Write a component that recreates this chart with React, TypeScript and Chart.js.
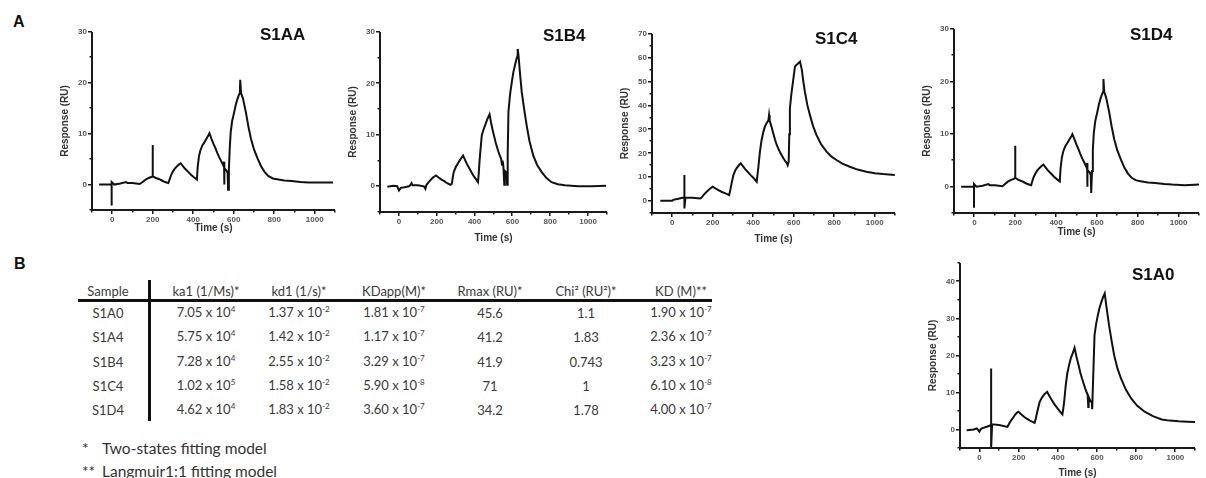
import React, { useEffect, useRef } from 'react';
import { Chart, registerables } from 'chart.js';

Chart.register(...registerables);

// ---------- Sensorgram data (time in s, response in RU) ----------
const s1aaTime = [-65, -20, -3, -3, -3, 10, 40, 68, 75, 100, 135, 150, 165, 180, 193, 200, 200, 200, 215, 230, 245, 260, 277, 283, 290, 300, 310, 320, 330, 338, 350, 360, 375, 390, 405, 418, 422, 428, 435, 445, 455, 465, 475, 480, 490, 500, 510, 518, 528, 538, 548, 550, 552, 552, 555, 565, 570, 572, 576, 580, 585, 592, 602, 610, 618, 625, 630, 632, 636, 645, 660, 672, 685, 700, 718, 735, 752, 770, 793, 820, 850, 885, 930, 968, 1030, 1090];
const s1aaResponse = [0, 0, 0, -4.1, 0.5, 0, 0.2, 0.5, 0.3, 0.3, 0.1, 0.5, 1.0, 1.3, 1.5, 1.6, 7.8, 1.6, 1.3, 1.1, 0.8, 0.5, 0.3, 1.0, 1.8, 2.6, 3.2, 3.6, 4.0, 4.2, 3.6, 3.1, 2.5, 1.9, 1.4, 1.0, 3.5, 5.5, 6.7, 7.7, 8.3, 9.0, 9.7, 10.1, 9.0, 8.0, 7.1, 6.3, 5.4, 4.6, 3.8, 3.6, 4.5, 0.0, 3.2, 2.7, 2.2, -1.0, 3.0, 7.0, 10.3, 12.5, 14.2, 15.7, 16.8, 17.6, 18.0, 20.6, 18.0, 17.0, 14.2, 11.5, 9.0, 6.9, 5.1, 3.6, 2.5, 1.7, 1.2, 1.0, 0.8, 0.7, 0.5, 0.4, 0.4, 0.4];

const s1b4Time = [-61, -30, -9, 0, 10, 30, 53, 62, 67, 72, 100, 132, 140, 145, 155, 167, 180, 196, 210, 225, 240, 255, 272, 280, 285, 290, 300, 316, 328, 339, 350, 360, 375, 390, 405, 418, 422, 426, 430, 438, 447, 456, 468, 479, 487, 495, 503, 510, 518, 525, 533, 540, 545, 548, 552, 557, 560, 565, 570, 572, 575, 579, 588, 597, 605, 614, 621, 626, 628, 632, 640, 649, 662, 675, 690, 710, 730, 754, 780, 807, 840, 877, 947, 1020, 1095];
const s1b4Response = [-0.1, 0.1, 0, -0.8, -0.3, -0.2, 0, 0.3, 0.6, 0.2, 0.2, 0.0, -0.5, 0.2, 0.7, 1.2, 1.7, 2.1, 1.7, 1.3, 1.0, 0.6, 0.3, 0.5, 1.8, 2.8, 3.7, 4.7, 5.4, 6.0, 5.1, 4.3, 3.3, 2.3, 1.5, 0.8, 2.5, 4.8, 6.6, 9.9, 11.0, 11.9, 13.1, 14.0, 12.4, 11.0, 9.8, 8.7, 7.7, 6.8, 6.0, 5.4, 4.2, 5.0, 4.0, 0.3, 3.0, 2.8, 2.2, 0.3, 6.0, 14.5, 18.0, 20.3, 22.2, 23.6, 24.7, 25.3, 26.7, 25.5, 22.0, 18.4, 15.0, 11.9, 8.8, 6.0, 4.2, 2.8, 1.6, 0.8, 0.4, 0.2, 0.0, 0.0, 0.1];

const s1c4Time = [-59, -20, 0, 5, 30, 56, 60, 60, 60, 65, 100, 138, 145, 155, 170, 185, 199, 215, 230, 245, 260, 281, 287, 292, 302, 312, 320, 330, 338, 350, 360, 370, 385, 400, 417, 421, 425, 433, 441, 450, 458, 465, 475, 478, 481, 490, 500, 508, 516, 525, 535, 549, 560, 565, 570, 575, 578, 581, 587, 594, 600, 606, 613, 620, 631, 640, 647, 655, 667, 680, 695, 712, 735, 762, 785, 811, 840, 877, 915, 959, 1000, 1041, 1099];
const s1c4Response = [0.1, 0.1, 0.1, 0.5, 1.0, 1.5, 1.5, 10.9, -3.1, 1.5, 1.4, 1.1, 1.5, 2.6, 3.9, 5.1, 6.0, 5.2, 4.5, 3.8, 3.3, 2.5, 4.8, 7.0, 10.9, 13.0, 14.0, 15.1, 15.8, 14.5, 13.4, 12.5, 11.1, 9.8, 8.1, 11.0, 14.0, 20.7, 25.5, 29.0, 31.3, 32.5, 33.9, 36.0, 33.7, 31.2, 28.0, 25.6, 23.5, 21.8, 20.0, 17.9, 16.5, 16.0, 15.0, 16.5, 28.0, 38.8, 44.0, 48.6, 52.5, 56.3, 57.0, 57.5, 58.4, 55.0, 50.3, 45.8, 40.3, 36.0, 31.5, 27.7, 23.8, 20.7, 18.7, 17.2, 15.7, 14.4, 13.2, 12.3, 11.7, 11.3, 10.9];

const s1d4Time = [-65, -20, -2, -2, -2, 10, 40, 68, 75, 100, 138, 150, 165, 180, 193, 200, 200, 200, 215, 230, 245, 260, 278, 283, 290, 300, 310, 320, 330, 338, 350, 360, 375, 390, 405, 418, 422, 428, 435, 445, 455, 465, 475, 480, 490, 500, 510, 518, 528, 538, 548, 550, 552, 552, 555, 565, 570, 572, 576, 580, 585, 592, 602, 610, 618, 625, 630, 632, 636, 645, 660, 672, 685, 700, 718, 735, 752, 770, 793, 820, 850, 885, 930, 968, 1030, 1100];
const s1d4Response = [0, 0, 0, -4.0, 0.5, 0, 0.2, 0.5, 0.3, 0.3, 0.1, 0.5, 1.0, 1.3, 1.5, 1.7, 7.8, 1.7, 1.3, 1.1, 0.8, 0.5, 0.3, 1.0, 1.8, 2.6, 3.2, 3.6, 4.0, 4.2, 3.6, 3.1, 2.5, 1.9, 1.4, 1.0, 3.5, 5.5, 6.7, 7.7, 8.3, 9.0, 9.6, 10.0, 9.0, 8.0, 7.1, 6.3, 5.4, 4.6, 3.8, 3.6, 4.5, 0.0, 3.2, 2.7, 2.2, -1.2, 3.0, 7.0, 10.3, 12.5, 14.2, 15.7, 16.8, 17.6, 18.0, 20.5, 18.0, 17.0, 14.2, 11.5, 9.0, 6.9, 5.1, 3.6, 2.5, 1.7, 1.2, 1.0, 0.8, 0.7, 0.5, 0.4, 0.3, 0.4];

const s1a0Time = [-66, -30, -14, -1, 5, 12, 40, 59, 59, 59, 64, 100, 142, 150, 160, 168, 180, 190, 199, 215, 230, 245, 260, 281, 287, 292, 300, 307, 318, 330, 345, 355, 367, 380, 395, 410, 423, 427, 432, 440, 448, 457, 466, 475, 485, 495, 505, 514, 523, 532, 540, 552, 555, 557, 565, 573, 575, 580, 587, 595, 604, 613, 622, 632, 639, 650, 661, 674, 687, 704, 722, 747, 774, 805, 843, 885, 930, 970, 1016, 1060, 1100];
const s1a0Response = [-0.2, 0, 0.3, -0.6, 0, 0.3, 0.8, 1.2, 16.5, -5, 1.4, 1.2, 0.7, 1.5, 2.4, 2.9, 3.9, 4.5, 4.8, 4.0, 3.3, 2.8, 2.3, 1.8, 3.0, 4.2, 6.0, 7.5, 8.6, 9.5, 10.2, 9.2, 8.1, 7.0, 5.9, 4.9, 4.1, 5.5, 7.5, 12.0, 15.2, 17.4, 19.3, 20.5, 22.1, 19.6, 17.5, 15.5, 13.8, 12.3, 11.0, 9.3, 6.1, 8.8, 7.8, 7.3, 5.5, 14.0, 25.5, 28.5, 30.9, 33.0, 34.5, 36.0, 36.8, 32.3, 28.2, 24.0, 20.1, 16.5, 13.8, 10.8, 8.4, 6.4, 4.8, 3.6, 2.7, 2.4, 2.2, 2.1, 2.0];

// axis tick settings
const timeMin = -100;
const timeMax = 1100;
const timeStep = 100;
const timeLabelStep = 200;

// ---------- Table data ----------
const tableHeaders = ['Sample', 'ka1 (1/Ms)*', 'kd1 (1/s)*', 'KDapp(M)*', 'Rmax (RU)*', 'Chi\u00B2 (RU\u00B2)*', 'KD (M)**'];
const samples = ['S1A0', 'S1A4', 'S1B4', 'S1C4', 'S1D4'];
const ka1Mantissa = ['7.05', '5.75', '7.28', '1.02', '4.62'];
const ka1Exponent = ['4', '4', '4', '5', '4'];
const kd1Mantissa = ['1.37', '1.42', '2.55', '1.58', '1.83'];
const kd1Exponent = ['-2', '-2', '-2', '-2', '-2'];
const kdappMantissa = ['1.81', '1.17', '3.29', '5.90', '3.60'];
const kdappExponent = ['-7', '-7', '-7', '-8', '-7'];
const rmaxValues = ['45.6', '41.2', '41.9', '71', '34.2'];
const chi2Values = ['1.1', '1.83', '0.743', '1', '1.78'];
const kdMantissa = ['1.90', '2.36', '3.23', '6.10', '4.00'];
const kdExponent = ['-7', '-7', '-7', '-8', '-7'];
const footnotes = [['*', 'Two-states fitting model'], ['**', 'Langmuir1:1 fitting model']];

// ---------- Layout ----------
type Panel = {
  name: string;
  time: number[];
  resp: number[];
  yMin: number;
  yMax: number;
  areaL: number;
  areaR: number;
  areaT: number;
  areaB: number;
  yW: number;
  xH: number;
  titleX: number;
  titleY: number;
};

const panels: Panel[] = [
  { name: 'S1AA', time: s1aaTime, resp: s1aaResponse, yMin: -5, yMax: 30, areaL: 92, areaR: 335, areaT: 32, areaB: 210, yW: 33, xH: 24, titleX: 260, titleY: 26 },
  { name: 'S1B4', time: s1b4Time, resp: s1b4Response, yMin: -5, yMax: 30, areaL: 380, areaR: 607, areaT: 32, areaB: 212, yW: 33, xH: 32, titleX: 543, titleY: 27 },
  { name: 'S1C4', time: s1c4Time, resp: s1c4Response, yMin: -5, yMax: 70, areaL: 652, areaR: 895, areaT: 34, areaB: 213, yW: 33, xH: 32, titleX: 815, titleY: 30 },
  { name: 'S1D4', time: s1d4Time, resp: s1d4Response, yMin: -5, yMax: 30, areaL: 954, areaR: 1199, areaT: 29, areaB: 213, yW: 33, xH: 25, titleX: 1130, titleY: 26 },
  { name: 'S1A0', time: s1a0Time, resp: s1a0Response, yMin: -5, yMax: 45, areaL: 960, areaR: 1195, areaT: 263, areaB: 448, yW: 33, xH: 31, titleX: 1132, titleY: 266 },
];

const PAD_TOP = 7;
const PAD_RIGHT = 6;
const ARIAL = '"Liberation Sans", Arial, sans-serif';
const TABLE_FONT = 'Lato, "Open Sans", sans-serif';
const AXIS_COLOR = '#1a1a1a';

const columnCenters = [108, 206, 299, 394, 490, 586, 681];
const headerCenterY = 291;
const rowCenters = [313, 337, 361.5, 385.5, 409.5];

// Draws the L-shaped axes and major/minor tick marks from the chart's own scales
function drawAxes(chart: any) {
  const { ctx, chartArea: a, scales } = chart;
  const xs = scales.x;
  const ys = scales.y;
  const bottom = Math.round(a.bottom);
  const left = Math.round(a.left);
  ctx.save();
  ctx.fillStyle = AXIS_COLOR;
  ctx.fillRect(left - 1, a.top, 2, bottom - a.top + 1);
  ctx.fillRect(left - 1, bottom - 1, a.right - left + 1, 2);
  xs.ticks.forEach((t: any) => {
    const px = Math.round(xs.getPixelForValue(t.value));
    ctx.fillRect(px - 1, bottom, 1.5, t.label ? 4 : 2.5);
  });
  ys.ticks.forEach((t: any) => {
    const py = Math.round(ys.getPixelForValue(t.value));
    const len = t.label ? 4 : 2.5;
    ctx.fillRect(left - len, py - 1, len, 1.5);
  });
  ctx.restore();
}

const axesPlugin = {
  id: 'sprAxes',
  afterDraw(chart: any) {
    drawAxes(chart);
  },
};

function SprChart({ p }: { p: Panel }) {
  const ref = useRef<HTMLCanvasElement | null>(null);
  const left = p.areaL - p.yW;
  const top = p.areaT - PAD_TOP;
  const width = p.areaR + PAD_RIGHT - left;
  const height = p.areaB + p.xH - top;

  useEffect(() => {
    const canvas = ref.current;
    if (!canvas) return;
    const tickFont = { family: ARIAL, size: 8, weight: 'bold' as const };
    const titleFont = { family: ARIAL, size: 10, weight: 'bold' as const };
    const hiddenGrid = { drawOnChartArea: false, drawTicks: true, tickLength: 3, color: 'rgba(0,0,0,0)' };
    const chart = new Chart(canvas, {
      type: 'scatter',
      data: {
        datasets: [
          {
            data: p.time.map((t, i) => ({ x: t, y: p.resp[i] })),
            showLine: true,
            borderColor: '#111',
            borderWidth: 2,
            pointRadius: 0,
            tension: 0,
          },
        ],
      },
      options: {
        responsive: false,
        animation: false,
        devicePixelRatio: 1,
        layout: { padding: { top: PAD_TOP, right: PAD_RIGHT, left: 0, bottom: 0 } },
        plugins: { legend: { display: false }, tooltip: { enabled: false } },
        scales: {
          x: {
            type: 'linear',
            min: timeMin,
            max: timeMax,
            afterFit: (s: any) => { s.height = p.xH; },
            ticks: {
              stepSize: timeStep,
              autoSkip: false,
              maxRotation: 0,
              padding: 2,
              color: '#555',
              font: tickFont,
              callback: (v: any) => (v % timeLabelStep === 0 && v >= 0 && v <= 1000 ? String(v) : ''),
            },
            grid: hiddenGrid,
            border: { display: false },
            title: { display: true, text: 'Time (s)', color: '#333', font: titleFont, padding: 0 },
          },
          y: {
            type: 'linear',
            min: p.yMin,
            max: p.yMax,
            afterFit: (s: any) => { s.width = p.yW; },
            ticks: {
              stepSize: 5,
              autoSkip: false,
              padding: 2,
              color: '#555',
              font: tickFont,
              callback: (v: any) => (v % 10 === 0 && v >= 0 ? String(v) : ''),
            },
            grid: hiddenGrid,
            border: { display: false },
            title: { display: true, text: 'Response (RU)', color: '#333', font: titleFont, padding: 0 },
          },
        },
      },
      plugins: [axesPlugin],
    });
    return () => chart.destroy();
  }, []);

  return (
    <>
      <canvas ref={ref} width={width} height={height} style={{ position: 'absolute', left, top, width, height }} />
      <div style={{ position: 'absolute', left: p.titleX, top: p.titleY, fontFamily: ARIAL, fontWeight: 'bold', fontSize: 17, lineHeight: '17px', color: '#111', whiteSpace: 'nowrap' }}>{p.name}</div>
    </>
  );
}

function Sci({ m, e }: { m: string; e: string }) {
  return (
    <span>
      {m} x 10<span style={{ fontSize: 8, position: 'relative', top: -5 }}>{e}</span>
    </span>
  );
}

function Cell({ x, y, children }: { x: number; y: number; children: React.ReactNode }) {
  return (
    <div style={{ position: 'absolute', left: x, top: y, transform: 'translate(-50%, -50%)', whiteSpace: 'nowrap', fontFamily: TABLE_FONT, fontSize: 13, color: '#3a3a3a', lineHeight: '16px' }}>
      {children}
    </div>
  );
}

export default function App() {
  return (
    <div style={{ position: 'absolute', left: 0, top: 0, width: 1206, height: 478, background: '#fff', overflow: 'hidden' }}>
      <div style={{ position: 'absolute', left: 13, top: 14, fontFamily: ARIAL, fontWeight: 'bold', fontSize: 16, lineHeight: '16px', color: '#111' }}>A</div>
      <div style={{ position: 'absolute', left: 14, top: 256, fontFamily: ARIAL, fontWeight: 'bold', fontSize: 16, lineHeight: '16px', color: '#111' }}>B</div>
      {panels.map((p) => (
        <SprChart key={p.name} p={p} />
      ))}

      {tableHeaders.map((h, i) => (
        <Cell key={'h' + i} x={columnCenters[i]} y={headerCenterY}>{h}</Cell>
      ))}
      <div style={{ position: 'absolute', left: 78, top: 298.5, width: 634, height: 3, background: '#111' }} />
      <div style={{ position: 'absolute', left: 147.5, top: 280, width: 3.5, height: 141, background: '#111' }} />
      {samples.map((s, r) => (
        <React.Fragment key={s}>
          <Cell x={columnCenters[0]} y={rowCenters[r]}>{s}</Cell>
          <Cell x={columnCenters[1]} y={rowCenters[r]}><Sci m={ka1Mantissa[r]} e={ka1Exponent[r]} /></Cell>
          <Cell x={columnCenters[2]} y={rowCenters[r]}><Sci m={kd1Mantissa[r]} e={kd1Exponent[r]} /></Cell>
          <Cell x={columnCenters[3]} y={rowCenters[r]}><Sci m={kdappMantissa[r]} e={kdappExponent[r]} /></Cell>
          <Cell x={columnCenters[4]} y={rowCenters[r]}>{rmaxValues[r]}</Cell>
          <Cell x={columnCenters[5]} y={rowCenters[r]}>{chi2Values[r]}</Cell>
          <Cell x={columnCenters[6]} y={rowCenters[r]}><Sci m={kdMantissa[r]} e={kdExponent[r]} /></Cell>
        </React.Fragment>
      ))}
      {footnotes.map(([mark, text], i) => (
        <React.Fragment key={mark}>
          <div style={{ position: 'absolute', left: 82, top: 448 + i * 23 - 10, fontFamily: TABLE_FONT, fontSize: 15.5, lineHeight: '20px', color: '#333' }}>{mark}</div>
          <div style={{ position: 'absolute', left: 102, top: 448 + i * 23 - 10, fontFamily: TABLE_FONT, fontSize: 15.5, lineHeight: '20px', color: '#333', whiteSpace: 'nowrap' }}>{text}</div>
        </React.Fragment>
      ))}
    </div>
  );
}
